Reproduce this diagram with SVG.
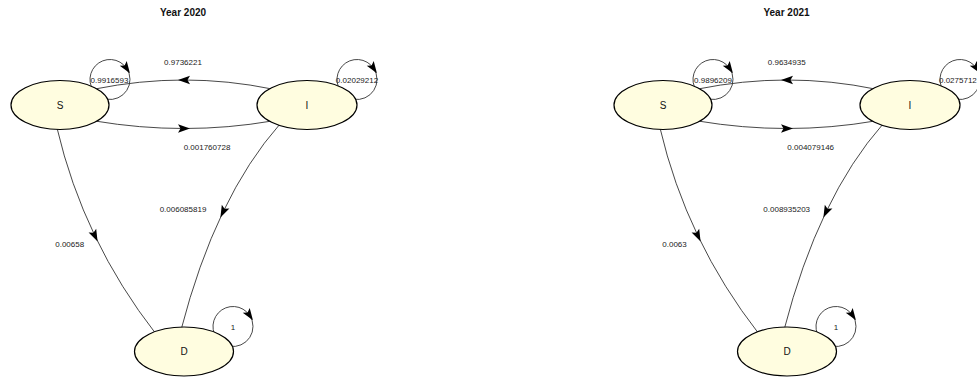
<svg xmlns="http://www.w3.org/2000/svg" width="977" height="378" viewBox="0 0 977 378">
<style>
.bg{fill:#ffffff}
.title{font-family:"Liberation Sans",Arial,sans-serif;font-size:10px;font-weight:bold;fill:#111;text-anchor:middle}
.edge{fill:none;stroke:#333;stroke-width:0.9;marker-mid:url(#arr)}
.elab{font-family:"Liberation Sans",Arial,sans-serif;font-size:8px;fill:#222;text-anchor:middle}
.node ellipse{fill:#fffde0;stroke:#000;stroke-width:1.2}
.node text{font-family:"Liberation Sans",Arial,sans-serif;font-size:10px;fill:#111;text-anchor:middle}
</style>
<defs>
<marker id="arr" markerUnits="userSpaceOnUse" markerWidth="16" markerHeight="12" viewBox="-8 -6 16 12" refX="0" refY="0" orient="auto" overflow="visible">
<path d="M6,0 L-6,-4.2 L-3.5,0 L-6,4.2 Z" fill="#000"/>
</marker>
</defs>
<rect class="bg" x="0" y="0" width="977" height="378"/>
<text class="title" x="183" y="16">Year 2020</text>
<text class="title" x="786.5" y="16">Year 2021</text>
<g id="connectors">
<!-- 2020 -->
<path class="edge" d="M272,89 Q228.25,80 184,80 Q139.75,80 95,89"/>
<path class="edge" d="M95,121 Q139.75,128.5 184,128.5 Q228.25,128.5 272,121"/>
<path class="edge" d="M57,128 Q70.25,184.5 95,236 Q119.75,287.5 156,334"/>
<path class="edge" d="M280,124 Q247.75,160.5 223,212 Q198.25,263.5 181,330"/>
<path class="edge" d="M100,96.82 A20,20 0 1 1 126.58,68.32 A20,20 0 0 1 106.53,99.2"/>
<path class="edge" d="M347,96.82 A20,20 0 1 1 373.58,68.32 A20,20 0 0 1 353.53,99.2"/>
<path class="edge" d="M223,343.82 A20,20 0 1 1 249.58,315.32 A20,20 0 0 1 229.53,346.2"/>
<!-- 2021 -->
<path class="edge" d="M875,89 Q831.25,80 787,80 Q742.75,80 698,89"/>
<path class="edge" d="M698,121 Q742.75,128.5 787,128.5 Q831.25,128.5 875,121"/>
<path class="edge" d="M660,128 Q673.25,184.5 698,236 Q722.75,287.5 759,334"/>
<path class="edge" d="M883,124 Q850.75,160.5 826,212 Q801.25,263.5 784,330"/>
<path class="edge" d="M703,96.82 A20,20 0 1 1 729.58,68.32 A20,20 0 0 1 709.53,99.2"/>
<path class="edge" d="M950,96.82 A20,20 0 1 1 976.58,68.32 A20,20 0 0 1 956.53,99.2"/>
<path class="edge" d="M826,343.82 A20,20 0 1 1 852.58,315.32 A20,20 0 0 1 832.53,346.2"/>
<text class="elab" x="183" y="65">0.9736221</text>
<text class="elab" x="109.5" y="83">0.9916593</text>
<text class="elab" x="357" y="83">0.02029212</text>
<text class="elab" x="207" y="150">0.001760728</text>
<text class="elab" x="183" y="212">0.006085819</text>
<text class="elab" x="69.7" y="247">0.00658</text>
<text class="elab" x="233" y="330">1</text>
<text class="elab" x="786.7" y="65">0.9634935</text>
<text class="elab" x="713" y="83">0.9896209</text>
<text class="elab" x="939" y="83" style="text-anchor:start">0.0275712</text>
<text class="elab" x="810.7" y="150">0.004079146</text>
<text class="elab" x="786.7" y="212">0.008935203</text>
<text class="elab" x="674.5" y="247">0.0063</text>
<text class="elab" x="836" y="330">1</text>
</g>
<g id="S2020" class="node"><ellipse cx="60" cy="105" rx="49" ry="24.5"/><text x="60" y="108.6">S</text></g>
<g id="I2020" class="node"><ellipse cx="307" cy="105" rx="50" ry="24.5"/><text x="307" y="108.6">I</text></g>
<g id="D2020" class="node"><ellipse cx="184" cy="351.5" rx="49.5" ry="24.5"/><text x="184" y="355.1">D</text></g>
<g id="S2021" class="node"><ellipse cx="663" cy="105" rx="49" ry="24.5"/><text x="663" y="108.6">S</text></g>
<g id="I2021" class="node"><ellipse cx="910" cy="105" rx="50" ry="24.5"/><text x="910" y="108.6">I</text></g>
<g id="D2021" class="node"><ellipse cx="787" cy="351.5" rx="49.5" ry="24.5"/><text x="787" y="355.1">D</text></g>
</svg>
